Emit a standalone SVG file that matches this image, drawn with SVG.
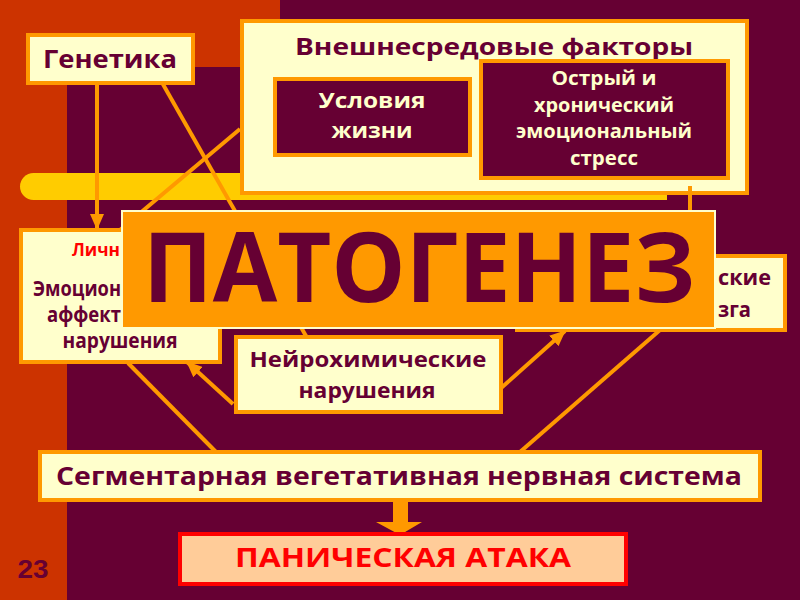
<svg xmlns="http://www.w3.org/2000/svg" width="800" height="600" viewBox="0 0 800 600">
<defs>
<style>
.t{font-family:"Open Sans","DejaVu Sans",sans-serif;font-weight:bold;fill:#660033;text-anchor:middle}
.s{text-anchor:start}
.tl{fill:#FFFFCC}
.box{fill:#FFFFCC;stroke:#FF9900;stroke-width:4}
.dbox{fill:#660033;stroke:#FF9900;stroke-width:4}
.ln{stroke:#FF9900;stroke-width:4;fill:none}
</style>
<marker id="ah" markerUnits="userSpaceOnUse" markerWidth="16" markerHeight="14" refX="15" refY="7" orient="auto">
<path d="M0,0 L16,7 L0,14 Z" fill="#FF9900"/>
</marker>
</defs>
<rect width="800" height="600" fill="#660033"/>
<path d="M0,0 H280 V67 H67 V600 H0 Z" fill="#CC3300"/>
<path d="M33.5,173 H667 V200 H33.5 A13.5,13.5 0 0 1 33.5,173 Z" fill="#FFCC00"/>

<g id="env">
<rect class="box" x="242" y="21" width="505" height="172"/>
<text class="t" x="494" y="55" font-size="24" textLength="398" lengthAdjust="spacingAndGlyphs">Внешнесредовые факторы</text>
</g>
<g id="life">
<rect class="dbox" x="275" y="79" width="195" height="76"/>
<text class="t tl" x="372" y="108" font-size="22" textLength="107" lengthAdjust="spacingAndGlyphs">Условия</text>
<text class="t tl" x="372" y="138" font-size="22" textLength="81" lengthAdjust="spacingAndGlyphs">жизни</text>
</g>
<g id="stress">
<rect class="dbox" x="481" y="61" width="247" height="117"/>
<text class="t tl" x="604" y="85" font-size="19" textLength="105" lengthAdjust="spacingAndGlyphs">Острый и</text>
<text class="t tl" x="604" y="112" font-size="19" textLength="140" lengthAdjust="spacingAndGlyphs">хронический</text>
<text class="t tl" x="604" y="138" font-size="19" textLength="176" lengthAdjust="spacingAndGlyphs">эмоциональный</text>
<text class="t tl" x="604" y="165" font-size="19" textLength="68" lengthAdjust="spacingAndGlyphs">стресс</text>
</g>

<g id="connectors">
<line class="ln" x1="97" y1="84" x2="97" y2="229" marker-end="url(#ah)"/>
<line class="ln" x1="160" y1="79" x2="306" y2="336"/>
<line class="ln" x1="240" y1="129" x2="120" y2="230"/>
<line class="ln" x1="690" y1="186" x2="690" y2="256"/>
<line class="ln" x1="128" y1="363" x2="216" y2="452"/>
<line class="ln" x1="233" y1="404" x2="187" y2="362" marker-end="url(#ah)"/>
<line class="ln" x1="500" y1="389" x2="565" y2="331" marker-end="url(#ah)"/>
<line class="ln" x1="520" y1="452" x2="660" y2="330"/>
</g>

<g id="genetics">
<rect class="box" x="28" y="35" width="165" height="48"/>
<text class="t" x="110" y="68" font-size="25" textLength="134" lengthAdjust="spacingAndGlyphs">Генетика</text>
</g>
<g id="personal">
<rect class="box" x="21" y="230" width="199" height="132"/>
<text class="t s" x="72" y="256" font-size="18" style="fill:#FF0000" textLength="48" lengthAdjust="spacingAndGlyphs">Личн</text>
<text class="t s" x="33" y="296" font-size="21" textLength="88" lengthAdjust="spacingAndGlyphs">Эмоцион</text>
<text class="t s" x="47" y="322" font-size="21" textLength="74" lengthAdjust="spacingAndGlyphs">аффект</text>
<text class="t" x="120" y="348" font-size="21" textLength="115" lengthAdjust="spacingAndGlyphs">нарушения</text>
</g>
<g id="brain">
<rect class="box" x="517" y="256" width="268" height="74"/>
<text class="t s" x="718" y="285" font-size="21" textLength="53" lengthAdjust="spacingAndGlyphs">ские</text>
<text class="t s" x="718" y="317" font-size="21" textLength="33" lengthAdjust="spacingAndGlyphs">зга</text>
</g>
<g id="neurochem">
<rect class="box" x="236" y="337" width="265" height="75"/>
<text class="t" x="368" y="367" font-size="21" textLength="237" lengthAdjust="spacingAndGlyphs">Нейрохимические</text>
<text class="t" x="367" y="398" font-size="21" textLength="137" lengthAdjust="spacingAndGlyphs">нарушения</text>
</g>
<g id="pathogenesis">
<rect x="122" y="211" width="593" height="117" fill="#FF9900" stroke="#FFFFCC" stroke-width="2"/>
<text class="t" x="419" y="302" font-size="96" textLength="552" lengthAdjust="spacingAndGlyphs">ПАТОГЕНЕЗ</text>
</g>
<g id="segment">
<rect class="box" x="40" y="452" width="720" height="48"/>
<text class="t" x="399" y="485" font-size="25" textLength="686" lengthAdjust="spacingAndGlyphs">Сегментарная вегетативная нервная система</text>
</g>
<path id="bigarrow" d="M393,499 H408 V522 H422 L400,535 L376,522 H393 Z" fill="#FF9900"/>
<g id="panic">
<rect x="180" y="534" width="446" height="50" fill="#FFCC99" stroke="#FF0000" stroke-width="4"/>
<text class="t" x="403" y="567" font-size="26" style="fill:#FF0000" textLength="336" lengthAdjust="spacingAndGlyphs">ПАНИЧЕСКАЯ АТАКА</text>
</g>
<text x="33" y="578" font-family="'Liberation Sans',Arial,sans-serif" font-weight="bold" font-size="26" fill="#660033" text-anchor="middle" textLength="31" lengthAdjust="spacingAndGlyphs">23</text>
</svg>
